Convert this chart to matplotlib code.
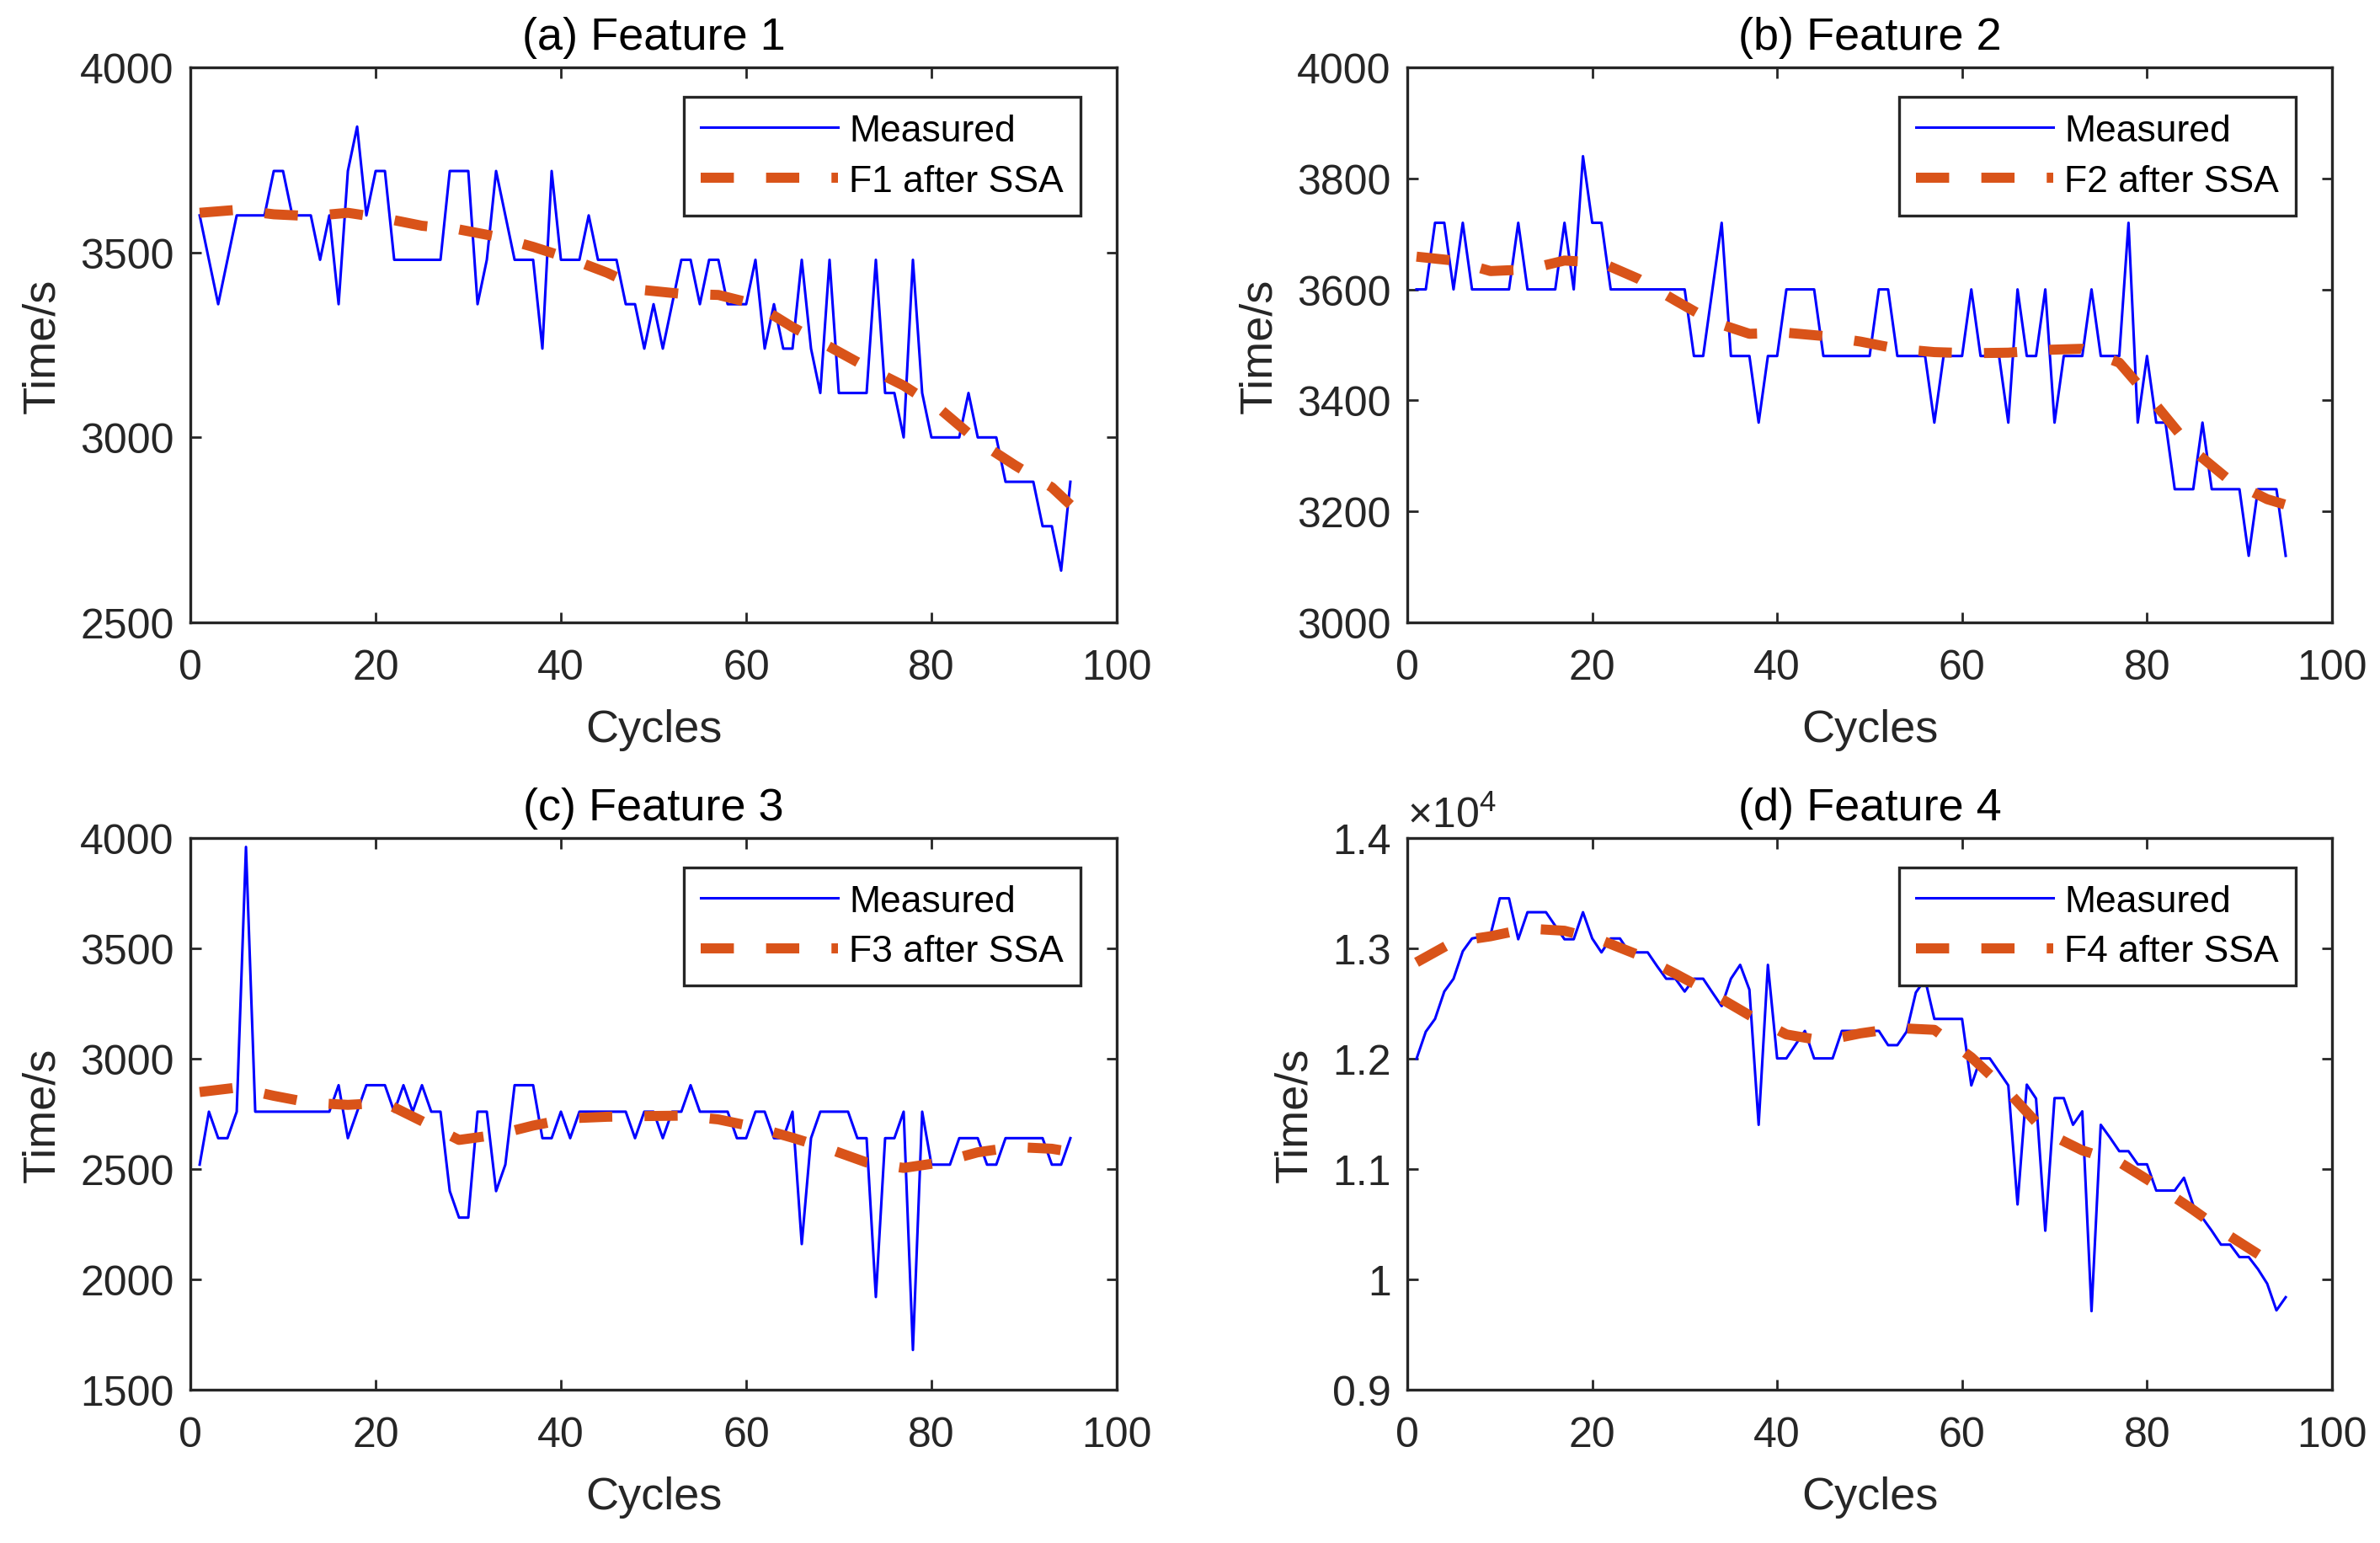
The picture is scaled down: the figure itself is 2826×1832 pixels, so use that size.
import numpy as np
import matplotlib
matplotlib.use("Agg")
import matplotlib.pyplot as plt

plt.rcParams['font.family'] = ['Liberation Sans', 'DejaVu Sans']
plt.rcParams['mathtext.fontset'] = 'custom'
plt.rcParams['mathtext.rm'] = 'Liberation Sans'
plt.rcParams['mathtext.it'] = 'Liberation Sans'

# ---- data ----
cycles = np.arange(1, 96)
ssa_cycles = [1, 5, 9, 13, 17, 21, 25, 29, 33, 37, 41, 45, 49, 53, 57, 61, 65, 69, 73, 77, 81, 85, 89, 93, 95]

f1_measured = [3600, 3480, 3360, 3480, 3600, 3600, 3600, 3600, 3720, 3720,
               3600, 3600, 3600, 3480, 3600, 3360, 3720, 3840, 3600, 3720,
               3720, 3480, 3480, 3480, 3480, 3480, 3480, 3720, 3720, 3720,
               3360, 3480, 3720, 3600, 3480, 3480, 3480, 3240, 3720, 3480,
               3480, 3480, 3600, 3480, 3480, 3480, 3360, 3360, 3240, 3360,
               3240, 3360, 3480, 3480, 3360, 3480, 3480, 3360, 3360, 3360,
               3480, 3240, 3360, 3240, 3240, 3480, 3240, 3120, 3480, 3120,
               3120, 3120, 3120, 3480, 3120, 3120, 3000, 3480, 3120, 3000,
               3000, 3000, 3000, 3120, 3000, 3000, 3000, 2880, 2880, 2880,
               2880, 2760, 2760, 2640, 2880]
f1_ssa = [3607, 3615, 3603, 3598, 3607, 3592, 3572, 3562, 3543, 3515, 3483, 3445, 3398,
          3388, 3385, 3360, 3298, 3245, 3190, 3140, 3075, 2990, 2925, 2865, 2818]

f2_measured = [3600, 3600, 3720, 3720, 3600, 3720, 3600, 3600, 3600, 3600,
               3600, 3720, 3600, 3600, 3600, 3600, 3720, 3600, 3840, 3720,
               3720, 3600, 3600, 3600, 3600, 3600, 3600, 3600, 3600, 3600,
               3480, 3480, 3600, 3720, 3480, 3480, 3480, 3360, 3480, 3480,
               3600, 3600, 3600, 3600, 3480, 3480, 3480, 3480, 3480, 3480,
               3600, 3600, 3480, 3480, 3480, 3480, 3360, 3480, 3480, 3480,
               3600, 3480, 3480, 3480, 3360, 3600, 3480, 3480, 3600, 3360,
               3480, 3480, 3480, 3600, 3480, 3480, 3480, 3720, 3360, 3480,
               3360, 3360, 3240, 3240, 3240, 3360, 3240, 3240, 3240, 3240,
               3120, 3240, 3240, 3240, 3120]
f2_ssa = [3659, 3652, 3633, 3636, 3652, 3648, 3619, 3580, 3542, 3520, 3522, 3516, 3506,
          3493, 3487, 3485, 3486, 3491, 3493, 3468, 3391, 3310, 3255, 3222, 3212]

f3_measured = [2520, 2760, 2640, 2640, 2760, 3960, 2760, 2760, 2760, 2760,
               2760, 2760, 2760, 2760, 2760, 2880, 2640, 2760, 2880, 2880,
               2880, 2760, 2880, 2760, 2880, 2760, 2760, 2400, 2280, 2280,
               2760, 2760, 2400, 2520, 2880, 2880, 2880, 2640, 2640, 2760,
               2640, 2760, 2760, 2760, 2760, 2760, 2760, 2640, 2760, 2760,
               2640, 2760, 2760, 2880, 2760, 2760, 2760, 2760, 2640, 2640,
               2760, 2760, 2640, 2640, 2760, 2160, 2640, 2760, 2760, 2760,
               2760, 2640, 2640, 1920, 2640, 2640, 2760, 1680, 2760, 2520,
               2520, 2520, 2640, 2640, 2640, 2520, 2520, 2640, 2640, 2640,
               2640, 2640, 2520, 2520, 2640]
f3_ssa = [2849, 2869, 2832, 2800, 2791, 2800, 2717, 2632, 2655, 2697, 2730, 2737, 2740,
          2742, 2725, 2690, 2642, 2590, 2530, 2505, 2530, 2576, 2600, 2592, 2578]

f4_measured = [12000, 12245, 12361, 12609, 12725, 12974, 13090, 13106, 13123, 13454,
               13454, 13083, 13328, 13328, 13328, 13205, 13083, 13083, 13328, 13090,
               12964, 13090, 13090, 12964, 12964, 12964, 12841, 12725, 12725, 12609,
               12725, 12725, 12600, 12477, 12725, 12851, 12626, 11401, 12851, 12003,
               12003, 12129, 12252, 12003, 12003, 12003, 12252, 12252, 12252, 12252,
               12252, 12123, 12123, 12245, 12600, 12720, 12361, 12361, 12361, 12361,
               11758, 12003, 12003, 11881, 11758, 10679, 11765, 11639, 10441, 11643,
               11643, 11401, 11523, 9712, 11401, 11285, 11162, 11162, 11043, 11043,
               10805, 10805, 10805, 10921, 10672, 10557, 10441, 10315, 10315, 10202,
               10202, 10093, 9961, 9719, 9838]
f4_ssa = [12874, 13060, 13110, 13180, 13160, 13073, 12940, 12770, 12590, 12394, 12220, 12162, 12230,
          12278, 12262, 12013, 11699, 11335, 11169, 11063, 10855, 10630, 10390, 10176, 10076]

titles = ['(a) Feature 1', '(b) Feature 2', '(c) Feature 3', '(d) Feature 4']
ssa_labels = ['F1 after SSA', 'F2 after SSA', 'F3 after SSA', 'F4 after SSA']
ylims = [(2500, 4000), (3000, 4000), (1500, 4000), (9000, 14000)]
ysteps = [500, 200, 500, 1000]
measured = [f1_measured, f2_measured, f3_measured, f4_measured]
ssa = [f1_ssa, f2_ssa, f3_ssa, f4_ssa]

gray = '#262626'
fig = plt.figure(figsize=(14.13, 9.165), dpi=200)
# axes rectangles [left, bottom, width, height] in figure fraction
rects = [[0.0800, 0.5963, 0.3892, 0.3595], [0.5913, 0.5963, 0.3885, 0.3595],
         [0.0800, 0.0993, 0.3892, 0.3573], [0.5913, 0.0993, 0.3885, 0.3573]]

for i in range(4):
    ax = fig.add_axes(rects[i])
    ax.plot(cycles, measured[i], color='#0000FF', lw=1.1, label='Measured')
    ax.plot(ssa_cycles, ssa[i], color='#D95319', lw=4.3, dashes=(3.3, 3.2), label=ssa_labels[i])
    ax.set_xlim(0, 100)
    ax.set_ylim(*ylims[i])
    ax.set_xticks(range(0, 101, 20))
    yt = np.arange(ylims[i][0], ylims[i][1] + 1, ysteps[i])
    ax.set_yticks(yt)
    if i == 3:
        ax.set_yticklabels(['0.9', '1', '1.1', '1.2', '1.3', '1.4'])
        ax.text(0.0, 1.004, r'$\times10^{4}$', transform=ax.transAxes, ha='left', va='bottom',
                fontsize=18, color=gray)
    ax.tick_params(direction='in', top=True, right=True, length=4.5, width=1.0,
                   labelsize=18, colors=gray)
    ax.tick_params(axis='x', pad=11)
    ax.tick_params(axis='y', pad=7)
    for s in ax.spines.values():
        s.set_color(gray)
        s.set_linewidth(1.2)
    ax.set_title(titles[i], fontsize=19.5, pad=8, color='black')
    ax.set_xlabel('Cycles', fontsize=19.5, color=gray, labelpad=9)
    ax.set_ylabel('Time/s', fontsize=19.5, color=gray, labelpad=7)
    leg = ax.legend(loc='upper right', bbox_to_anchor=(0.961, 0.947), fontsize=16,
                    fancybox=False, framealpha=1, edgecolor=gray, handlelength=3.67,
                    handletextpad=0.3, labelspacing=0.42, borderpad=0.45, borderaxespad=0)
    leg.get_frame().set_linewidth(1.2)

plt.savefig('out.png', dpi=200)
